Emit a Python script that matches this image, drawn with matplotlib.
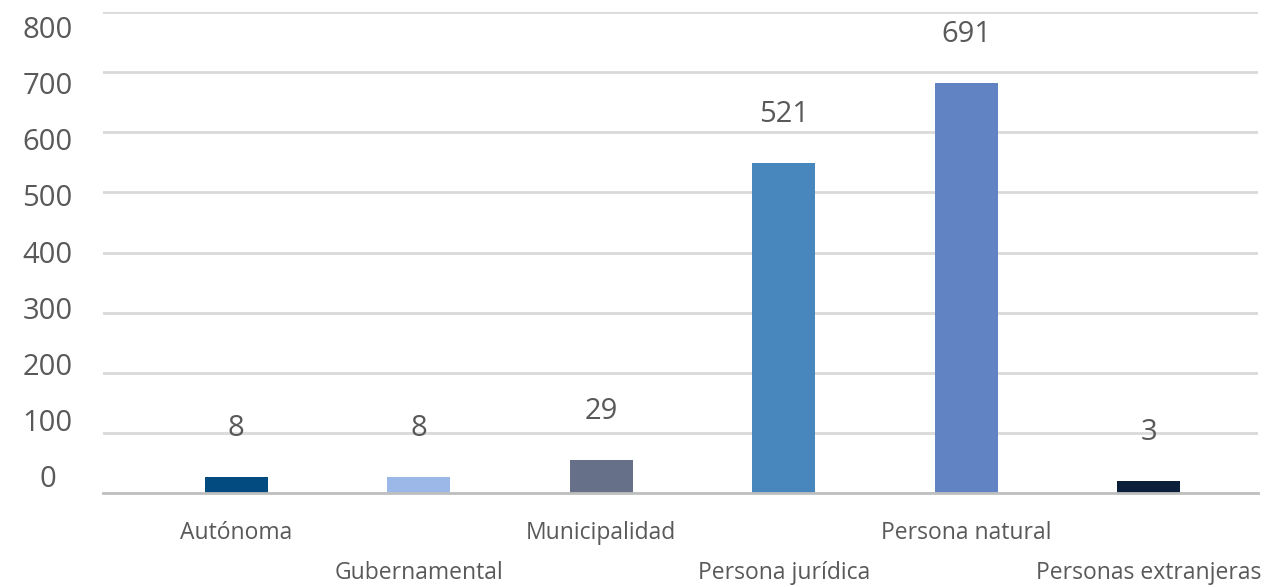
import matplotlib.pyplot as plt
from matplotlib.ticker import FixedLocator

plt.rcParams['font.family'] = ['Open Sans', 'DejaVu Sans']

# Categories and data labels
categories = ['Autónoma', 'Gubernamental', 'Municipalidad',
              'Persona jurídica', 'Persona natural', 'Personas extranjeras']
counts = [8, 8, 29, 521, 691, 3]
bar_heights = [27, 27, 55, 549, 682, 20]
colors = ['#024b80', '#9cb8e8', '#667088', '#4787bd', '#6283c3', '#0b1f3a']
y_ticks = [0, 100, 200, 300, 400, 500, 600, 700, 800]

text_color = '#595959'

fig = plt.figure(figsize=(12.66, 5.87), dpi=100)
ax = fig.add_axes([0.0814, 0.160, 0.9123, 0.8196])

x = list(range(len(categories)))
ax.bar(x, bar_heights, width=0.345, color=colors, zorder=3)

# data labels above the bars
for xi, h, c in zip(x, bar_heights, counts):
    ax.annotate(str(c), (xi, h), xytext=(0, 35), textcoords='offset points',
                ha='center', va='center', fontsize=21, color=text_color)

ax.set_xlim(-0.73, 5.6)
ax.set_ylim(0, 800)
ax.set_yticks(y_ticks)
ax.yaxis.grid(True, color='#d9d9d9', linewidth=2, zorder=0)
for s in ['top', 'right', 'left']:
    ax.spines[s].set_visible(False)
ax.spines['bottom'].set_color('#bfbfbf')
ax.spines['bottom'].set_linewidth(2)
ax.spines['bottom'].set_zorder(4)

# staggered category labels: even ones on top row, odd ones on lower row
ax.xaxis.set_major_locator(FixedLocator(x[0::2]))
ax.xaxis.set_minor_locator(FixedLocator(x[1::2]))
ax.set_xticklabels(categories[0::2])
ax.set_xticklabels(categories[1::2], minor=True)
ax.tick_params(axis='x', which='both', length=0, labelsize=16.5, labelcolor=text_color)
ax.tick_params(axis='x', which='major', pad=20)
ax.tick_params(axis='x', which='minor', pad=49)

# y labels sit slightly off the gridlines in the reference
ax2 = ax.twinx()
ax2.set_ylim(-30.3, 826.7)
ax2.set_yticks(y_ticks)
ax2.yaxis.tick_left()
ax2.tick_params(axis='y', length=0, labelsize=21, labelcolor=text_color, pad=40)
for lab in ax2.get_yticklabels():
    lab.set_horizontalalignment('center')
for s in ax2.spines.values():
    s.set_visible(False)
ax2.set_xlim(ax.get_xlim())
ax.tick_params(axis='y', left=False, right=False, labelleft=False)

fig.savefig('out.png', dpi=100)
